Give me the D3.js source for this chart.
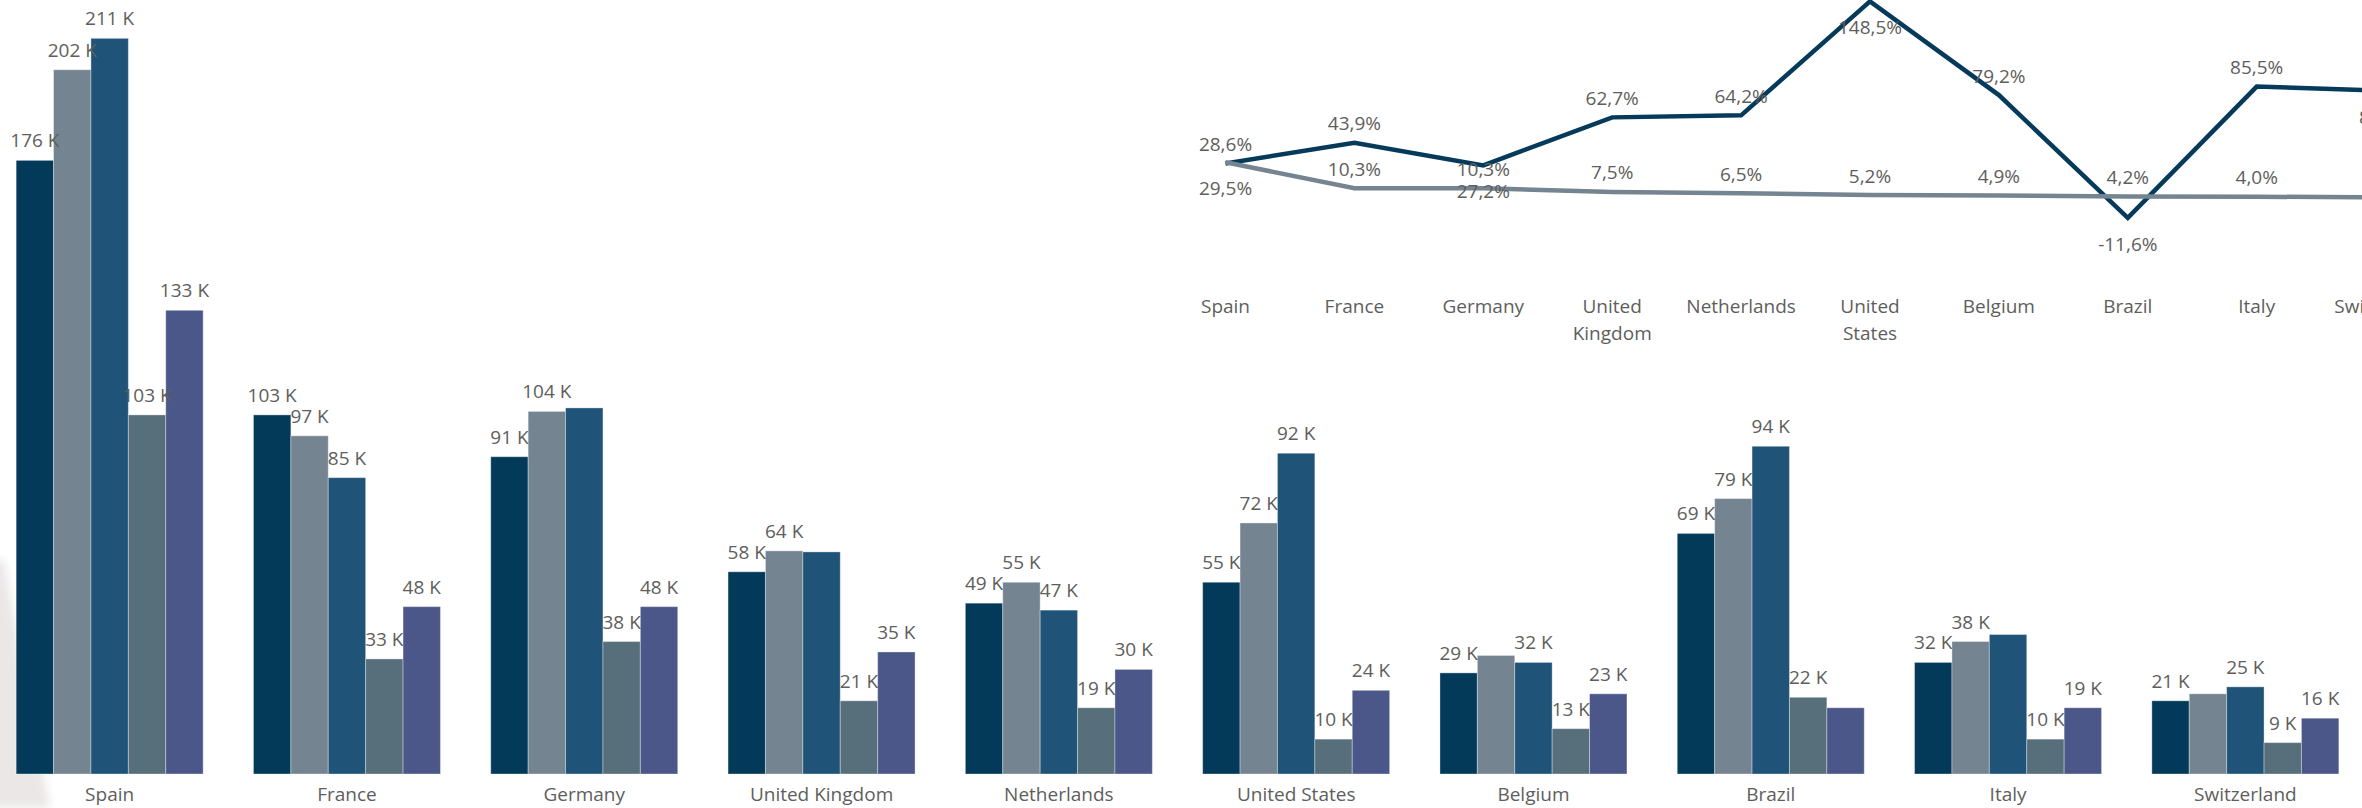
<!DOCTYPE html>
<html>
<head>
<meta charset="utf-8">
<script src="https://cdn.jsdelivr.net/npm/d3@7"></script>
<style>
  html, body { margin: 0; padding: 0; background: #fff; overflow: hidden; }
  svg { display: block; }
  text { font-family: "Open Sans", "Noto Sans", sans-serif; fill: #605e5c; }
</style>
</head>
<body>
<svg id="chart" width="2362" height="808"></svg>
<script>
// ---- data -------------------------------------------------------------
const countries = ["Spain", "France", "Germany", "United Kingdom", "Netherlands",
                   "United States", "Belgium", "Brazil", "Italy", "Switzerland"];

// Clustered column values, in thousands
const series1 = [176, 103, 91, 58, 49, 55, 29, 69, 32, 21];
const series2 = [202, 97, 104, 64, 55, 72, 34, 79, 38, 23];
const series3 = [211, 85, 105, 63.7, 47, 92, 32, 94, 40, 25];
const series4 = [103, 33, 38, 21, 19, 10, 13, 22, 10, 9];
const series5 = [133, 48, 48, 35, 30, 24, 23, 19, 19, 16];

// Line values, in percent
const growthPct = [28.6, 43.9, 27.2, 62.7, 64.2, 148.5, 79.2, -11.6, 85.5, 82.4];
const sharePct  = [29.5, 10.3, 10.3, 7.5, 6.5, 5.2, 4.9, 4.2, 4.0, 3.5];

// ---- setup ------------------------------------------------------------
const W = 2362, H = 808;
const svg = d3.select("#chart");
const barColors = ["#033a5a", "#758491", "#1f5377", "#576e7b", "#4a5788"];
const allSeries = [series1, series2, series3, series4, series5];

const locale = d3.formatLocale({ decimal: ",", thousands: ".", grouping: [3], currency: ["", "€"], minus: "-" });
const fmtPct = v => locale.format(".1f")(v) + "%";
const fmtK = v => Math.round(v) + " K";

// soft grey shape in the lower-left corner
const defs = svg.append("defs");
defs.append("filter").attr("id", "soft")
  .append("feGaussianBlur").attr("stdDeviation", 4);
svg.append("path")
  .attr("d", "M-10,560 L4,560 L50,808 L-10,808 Z")
  .attr("fill", "#ebe7e7")
  .attr("filter", "url(#soft)");

// ---- clustered columns ------------------------------------------------
const x0 = d3.scaleBand().domain(countries).range([-9, 2364])
  .paddingInner(0.212).paddingOuter(0.106);
const x1 = d3.scaleBand().domain(d3.range(allSeries.length)).range([0, x0.bandwidth()]);
const y = d3.scaleLinear().domain([0, 222]).range([774, 0]);

const bars = svg.append("g");
const groups = bars.selectAll("g.country")
  .data(countries)
  .join("g")
  .attr("class", "country")
  .attr("transform", d => `translate(${x0(d)},0)`);

groups.selectAll("rect")
  .data((c, i) => allSeries.map((s, k) => ({ k, v: s[i] })))
  .join("rect")
  .attr("x", d => x1(d.k))
  .attr("width", x1.bandwidth())
  .attr("y", d => y(d.v))
  .attr("height", d => y(0) - y(d.v))
  .attr("fill", d => barColors[d.k])
  .attr("stroke", "rgba(255,255,255,0.35)")
  .attr("stroke-width", 1);

// value labels, skipping any that would collide with one already placed
const labelLayer = svg.append("g").attr("font-size", 19);
countries.forEach((c, i) => {
  const placed = [];
  allSeries.forEach((s, k) => {
    const cx = x0(c) + x1(k) + x1.bandwidth() / 2;
    const base = y(s[i]) - 13;
    const t = labelLayer.append("text")
      .attr("x", cx).attr("y", base)
      .attr("text-anchor", "middle")
      .text(fmtK(s[i]));
    const w = t.node().getComputedTextLength();
    const box = { x0: cx - w / 2, x1: cx + w / 2, y0: base - 19, y1: base };
    const hit = placed.some(b => box.x0 < b.x1 && box.x1 > b.x0 && box.y0 < b.y1 && box.y1 > b.y0);
    if (hit) t.remove(); else placed.push(box);
  });
});

// category axis
const xAxis = svg.append("g")
  .attr("transform", `translate(0,${y(0)})`)
  .call(d3.axisBottom(x0).tickSize(0).tickPadding(14));
xAxis.select(".domain").remove();
xAxis.selectAll("text")
  .attr("font-size", 19)
  .attr("font-family", "'Open Sans', 'Noto Sans', sans-serif")
  .attr("fill", "#605e5c");

// ---- line chart -------------------------------------------------------
const xl = d3.scalePoint().domain(countries).range([1225.5, 1225.5 + 9 * 128.9]);
const yl = d3.scaleLinear()
  .domain(d3.extent(growthPct.concat(sharePct)))
  .range([217.8, 1.4]);

const lineGen = d3.line()
  .x((d, i) => xl(countries[i]))
  .y(d => yl(d));

const lines = svg.append("g");
lines.append("path")
  .attr("d", lineGen(growthPct))
  .attr("fill", "none")
  .attr("stroke", "#053a5b")
  .attr("stroke-width", 4.5);
lines.append("path")
  .attr("d", lineGen(sharePct))
  .attr("fill", "none")
  .attr("stroke", "#758491")
  .attr("stroke-width", 4.5);

// label side for each point (placed beneath the line where it would clash)
const growthBelow = new Set(["Germany", "United States", "Brazil", "Switzerland"]);
const shareBelow = new Set(["Spain"]);

const pctLabels = svg.append("g").attr("font-size", 19).attr("text-anchor", "middle");
function drawPctLabels(values, below) {
  pctLabels.selectAll(null)
    .data(values)
    .join("text")
    .attr("x", (d, i) => xl(countries[i]))
    .attr("y", (d, i) => below.has(countries[i]) ? yl(d) + 33 : yl(d) - 12.5)
    .text(d => fmtPct(d));
}
drawPctLabels(growthPct, growthBelow);
drawPctLabels(sharePct, shareBelow);

// line chart category labels, wrapped to the point spacing
const lineAxis = svg.append("g").attr("font-size", 19).attr("text-anchor", "middle");
countries.forEach(c => {
  const t = lineAxis.append("text").attr("x", xl(c)).attr("y", 313);
  const words = c.split(" ");
  let line = [], lineNo = 0;
  let tspan = t.append("tspan").attr("x", xl(c)).attr("dy", 0);
  words.forEach(wd => {
    line.push(wd);
    tspan.text(line.join(" "));
    if (tspan.node().getComputedTextLength() > 118 && line.length > 1) {
      line.pop();
      tspan.text(line.join(" "));
      line = [wd];
      lineNo++;
      tspan = t.append("tspan").attr("x", xl(c)).attr("dy", 27).text(wd);
    }
  });
});
</script>
</body>
</html>
